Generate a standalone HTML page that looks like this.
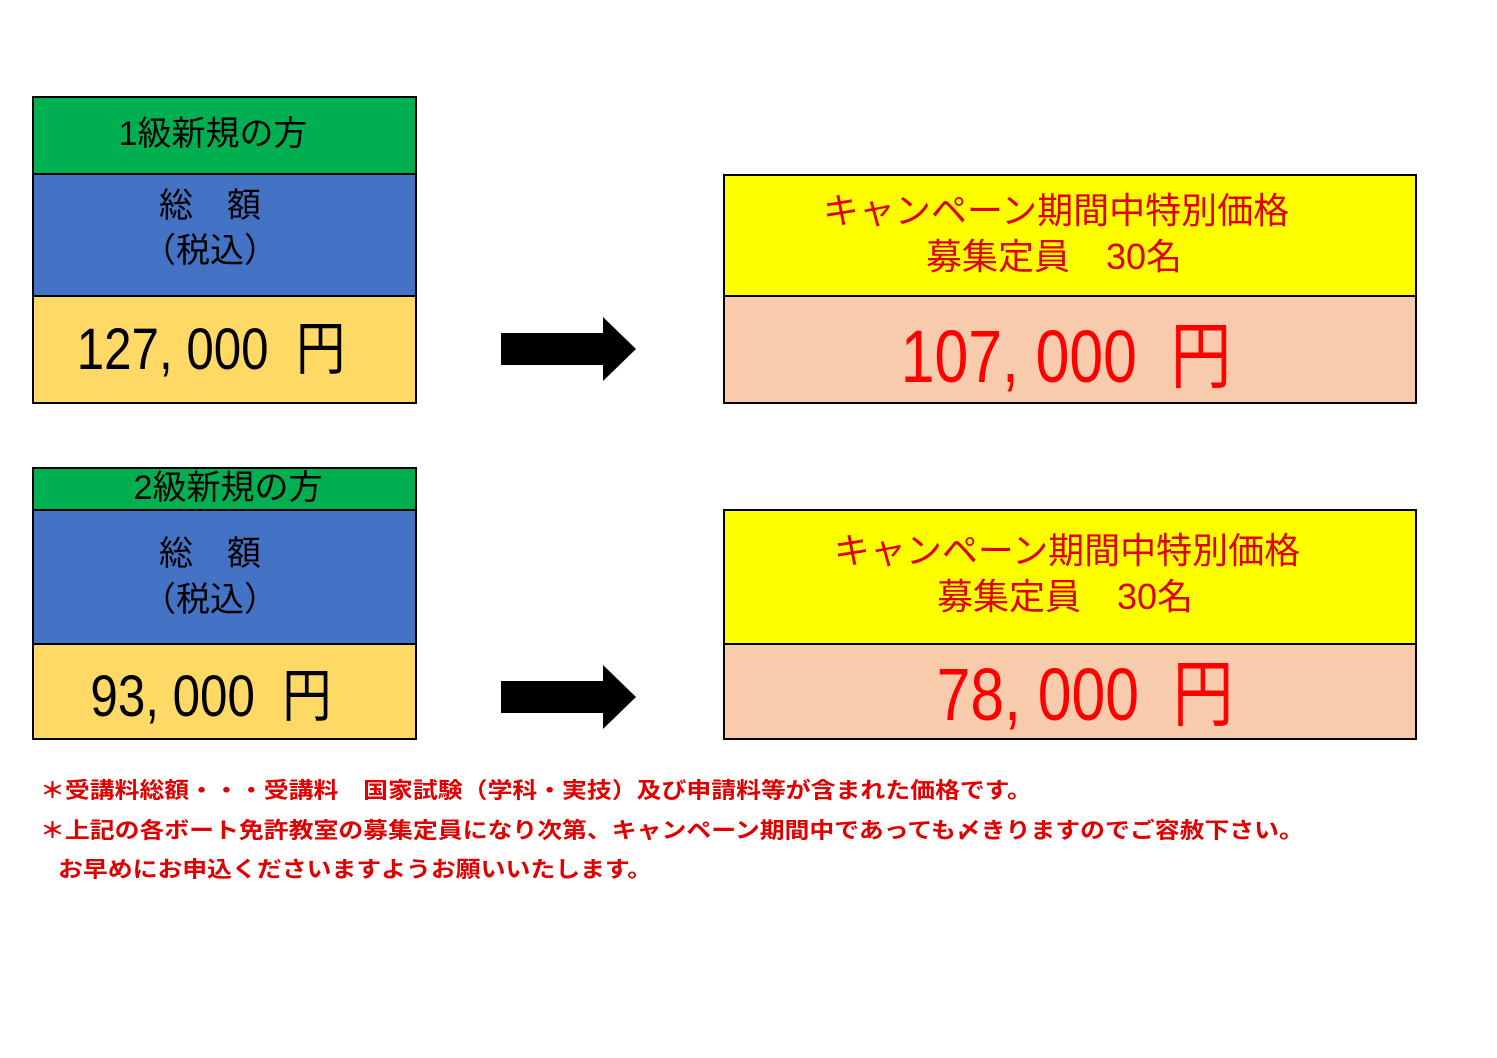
<!DOCTYPE html>
<html><head><meta charset="utf-8"><style>
body{margin:0;width:1497px;height:1058px;background:#fff;position:relative;overflow:hidden;font-family:"Liberation Sans","Noto Sans CJK JP",sans-serif;}
.r{position:absolute;box-sizing:border-box;}
.t{position:absolute;white-space:nowrap;transform:translate(-50%,-50%) scaleX(1);line-height:1;}
.n{position:absolute;white-space:nowrap;line-height:1;color:#e00000;font-size:22px;font-weight:bold;transform-origin:left center;transform:scaleX(1.13);}
</style></head><body>
<div class="r" style="left:32px;top:96px;width:385px;height:308px;border:2px solid #000;background:#ffd966"></div>
<div class="r" style="left:34px;top:98px;width:381px;height:77px;background:#00b050;border-bottom:2px solid #000"></div>
<div class="r" style="left:34px;top:175px;width:381px;height:122px;background:#4472c4;border-bottom:2px solid #000"></div>
<div class="t" style="left:213px;top:134px;font-size:34px">1級新規の方</div>
<div class="t" style="left:210px;top:206px;font-size:34px">総　額</div>
<div class="t" style="left:210px;top:251px;font-size:34px">（税込）</div>
<div class="t" style="left:211px;top:350px;font-size:58px;transform:translate(-50%,-50%) scaleX(0.85)">127, 000&nbsp;&nbsp;円</div>
<div class="r" style="left:32px;top:467px;width:385px;height:273px;border:2px solid #000;background:#ffd966"></div>
<div class="r" style="left:34px;top:469px;width:381px;height:42px;background:#00b050;border-bottom:2px solid #000"></div>
<div class="r" style="left:34px;top:511px;width:381px;height:134px;background:#4472c4;border-bottom:2px solid #000"></div>
<div class="t" style="left:228px;top:488px;font-size:34px">2級新規の方</div>
<div class="t" style="left:210px;top:554px;font-size:34px">総　額</div>
<div class="t" style="left:210px;top:600px;font-size:34px">（税込）</div>
<div class="t" style="left:211px;top:697px;font-size:58px;transform:translate(-50%,-50%) scaleX(0.85)">93, 000&nbsp;&nbsp;円</div>
<svg class="r" style="left:0;top:0" width="1497" height="1058">
<polygon points="501,333 603,333 603,317 636,349 603,381 603,365 501,365" fill="#000"/>
<polygon points="501,681 603,681 603,665 636,697 603,729 603,713 501,713" fill="#000"/>
</svg>
<div class="r" style="left:723px;top:174px;width:694px;height:230px;border:2px solid #000;background:#f8cbad"></div>
<div class="r" style="left:725px;top:176px;width:690px;height:121px;background:#ffff00;border-bottom:2px solid #000"></div>
<div class="t" style="left:1056px;top:211px;font-size:36px;color:#e00000">キャンペーン期間中特別価格</div>
<div class="t" style="left:1054px;top:257px;font-size:36px;color:#e00000">募集定員　30名</div>
<div class="t" style="left:1066px;top:357px;font-size:74px;color:#ff0000;transform:translate(-50%,-50%) scaleX(0.82)">107, 000&nbsp;&nbsp;円</div>
<div class="r" style="left:723px;top:509px;width:694px;height:231px;border:2px solid #000;background:#f8cbad"></div>
<div class="r" style="left:725px;top:511px;width:690px;height:134px;background:#ffff00;border-bottom:2px solid #000"></div>
<div class="t" style="left:1067px;top:551px;font-size:36px;color:#e00000">キャンペーン期間中特別価格</div>
<div class="t" style="left:1065px;top:597px;font-size:36px;color:#e00000">募集定員　30名</div>
<div class="t" style="left:1085px;top:695px;font-size:74px;color:#ff0000;transform:translate(-50%,-50%) scaleX(0.82)">78, 000&nbsp;&nbsp;円</div>
<div class="n" style="left:40px;top:780px">＊受講料総額・・・受講料　国家試験（学科・実技）及び申請料等が含まれた価格です。</div>
<div class="n" style="left:40px;top:820px">＊上記の各ボート免許教室の募集定員になり次第、キャンペーン期間中であっても〆きりますのでご容赦下さい。</div>
<div class="n" style="left:58px;top:859px">お早めにお申込くださいますようお願いいたします。</div>
</body></html>
